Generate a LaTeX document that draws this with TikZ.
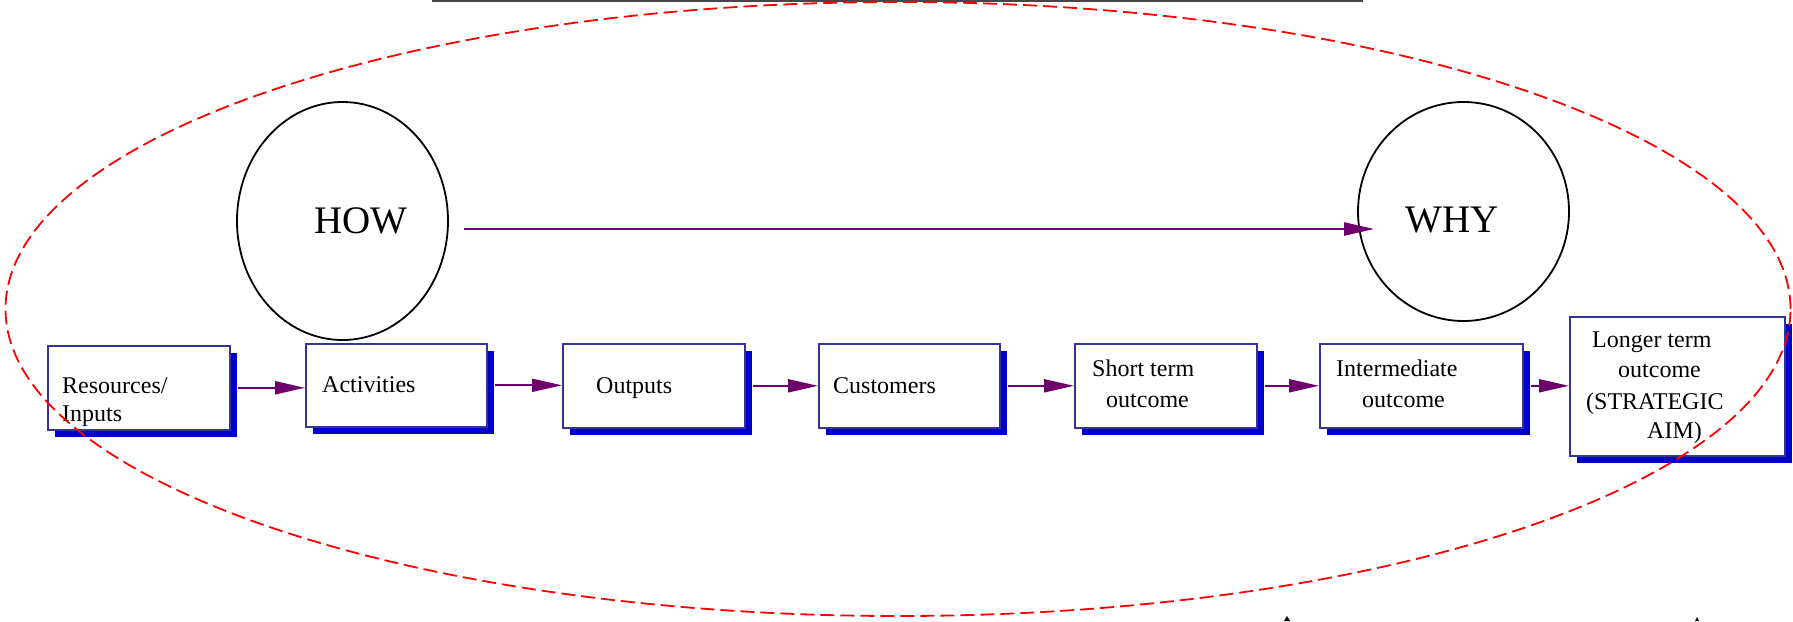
\documentclass[tikz,border=0pt]{standalone}
\usepackage{fontspec}
\setmainfont{Liberation Serif}
\usetikzlibrary{arrows.meta,shapes.geometric,shadows}
\definecolor{boxline}{RGB}{51,51,153}
\definecolor{shadowblue}{RGB}{0,0,204}
\definecolor{arrowpurple}{RGB}{110,0,110}
\definecolor{topgray}{RGB}{70,70,70}
\definecolor{dashred}{RGB}{255,0,0}
\begin{document}
\begin{tikzpicture}[x=1pt,y=-1pt,
  flowbox/.style={draw=boxline, line width=1.6pt, fill=white, rectangle, inner sep=0pt, anchor=north west,
    drop shadow={shadow xshift=7pt, shadow yshift=-7pt, fill=shadowblue, opacity=1}},
  boxtext/.style={anchor=base west, inner sep=0pt, font=\fontsize{24}{29}\selectfont},
  bigtext/.style={anchor=base west, inner sep=0pt, font=\fontsize{39}{46}\selectfont},
  circ/.style={draw=black, line width=1.8pt, ellipse, inner sep=0pt},
  flowarrow/.style={draw=arrowpurple, line width=2pt, -{Triangle[length=30pt,width=13pt]}},
  outline/.style={draw=dashred, line width=1.8pt, dash pattern=on 14pt off 6pt}
]
\useasboundingbox (0,0) rectangle (1793,621);

% top line
\draw[draw=topgray, line width=2pt] (432,1) -- (1363,1);

% circles
\node[circ, minimum width=211pt, minimum height=238pt] (how) at (342.5,221) {};
\node[circ, minimum width=211pt, minimum height=219pt] (why) at (1463.5,211.5) {};
\node[bigtext] (howt) at (314,233) {HOW};
\node[bigtext] (whyt) at (1405,232) {WHY};
\draw[flowarrow] ([shift={(15pt,-8pt)}]how.east) -- ([shift={(17pt,-17.5pt)}]why.west);

% boxes
\node[flowbox, minimum width=182pt, minimum height=84pt] (b1) at (47,345) {};
\node[flowbox, minimum width=181pt, minimum height=83pt] (b2) at (305,343) {};
\node[flowbox, minimum width=182pt, minimum height=84pt] (b3) at (562,343) {};
\node[flowbox, minimum width=181pt, minimum height=84pt] (b4) at (818,343) {};
\node[flowbox, minimum width=182pt, minimum height=84pt] (b5) at (1074,343) {};
\node[flowbox, minimum width=203pt, minimum height=84pt] (b6) at (1319,343) {};
\node[flowbox, minimum width=215pt, minimum height=139pt] (b7) at (1569,316) {};

% box texts
\node[boxtext] (t1a) at (62,393) {Resources/};
\node[boxtext] (t1b) at (62,421) {Inputs};
\node[boxtext] (t2) at (322,392) {Activities};
\node[boxtext] (t3) at (596,393) {Outputs};
\node[boxtext] (t4) at (833,393) {Customers};
\node[boxtext] (t5a) at (1092,376) {Short term};
\node[boxtext] (t5b) at (1106,407) {outcome};
\node[boxtext] (t6a) at (1336,376) {Intermediate};
\node[boxtext] (t6b) at (1362,407) {outcome};
\node[boxtext] (t7a) at (1592,347) {Longer term};
\node[boxtext] (t7b) at (1618,377) {outcome};
\node[boxtext] (t7c) at (1586,409) {(STRATEGIC};
\node[boxtext] (t7d) at (1647,438) {AIM)};

% connectors
\draw[flowarrow] ([xshift=7pt]b1.east) -- (b2.west |- b1.east);
\draw[flowarrow] ([xshift=7pt]b2.east) -- (b3.west |- b2.east);
\draw[flowarrow] ([xshift=7pt]b3.east) -- (b4.west |- b3.east);
\draw[flowarrow] ([xshift=7pt]b4.east) -- (b5.west |- b4.east);
\draw[flowarrow] ([xshift=7pt]b5.east) -- (b6.west |- b5.east);
\draw[flowarrow] ([xshift=7pt]b6.east) -- (b7.west |- b6.east);

% dashed outline, drawn over the boxes
\draw[outline] (898,309) ellipse [x radius=892.5pt, y radius=307pt];

% tiny marks at bottom edge
\fill[black] (1284,621) -- (1287,616) -- (1290,621) -- cycle;
\fill[black] (1695,621) -- (1697,617) -- (1699,621) -- cycle;
\end{tikzpicture}
\end{document}
